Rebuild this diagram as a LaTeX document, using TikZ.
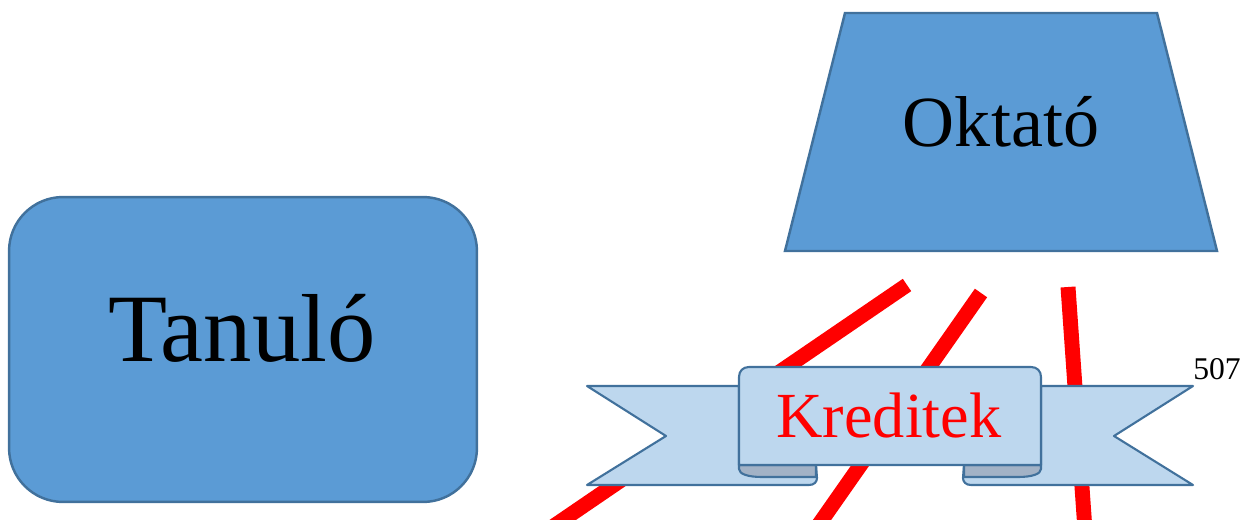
\documentclass[tikz,border=0pt]{standalone}
\usepackage{fontspec}
\newfontfamily\timesfont{Liberation Serif}
\definecolor{fillblue}{HTML}{5B9BD5}
\definecolor{edgeblue}{HTML}{41719C}
\definecolor{ribbonlight}{HTML}{BDD7EE}
\definecolor{ribbondark}{HTML}{A2B2C6}
\definecolor{linered}{HTML}{FF0000}
\tikzset{
  bluebox/.style={fill=fillblue, draw=edgeblue, line width=1.4pt},
  ribbonpart/.style={fill=ribbonlight, draw=edgeblue, line width=1.2pt, line join=round},
  ribbonfold/.style={fill=ribbondark, draw=edgeblue, line width=1.2pt, line join=round},
  redline/.style={draw=linered, line width=8.5pt},
  bigtext/.style={anchor=base, inner sep=0pt}
}
\begin{document}
\begin{tikzpicture}[x=0.02cm, y=-0.02cm]
\useasboundingbox (0,0) rectangle (1241,520);

% red lines (behind ribbon)
\coordinate (r1a) at (907,285); \coordinate (r1b) at (548,530);
\coordinate (r2a) at (981,293); \coordinate (r2b) at (815,530);
\coordinate (r3a) at (1068,287); \coordinate (r3b) at (1085,530);
\draw[redline] (r1a) -- (r1b);
\draw[redline] (r2a) -- (r2b);
\draw[redline] (r3a) -- (r3b);

% Tanulo rounded box
\node[bluebox, rounded corners=1.08cm, minimum width=9.36cm, minimum height=6.1cm, inner sep=0pt] (tanulobox) at (243,349.5) {};
\node[bigtext] (tanulo) at (242,361) {\timesfont\fontsize{55}{55}\selectfont Tanuló};

% Oktato trapezoid
\coordinate (tl) at (845,13); \coordinate (tr) at (1157,13);
\coordinate (br) at (1217,251); \coordinate (bl) at (785,251);
\filldraw[bluebox] (tl) -- (tr) -- (br) -- (bl) -- cycle;
\node[bigtext] (oktato) at (1001,147) {\timesfont\fontsize{41}{41}\selectfont Oktató};

% ribbon: left wing
\filldraw[ribbonpart] (739,386) -- (587,386) -- (666,436) -- (587,485) -- (809,485)
  .. controls (814,485) and (817,482) .. (817,478) -- (816,465) -- (739,465) -- cycle;
\filldraw[ribbonfold] (739,465) -- (739,469) .. controls (739,474) and (748,477) .. (762,477)
  -- (816,477) -- (816,465) -- cycle;
% right wing
\filldraw[ribbonpart] (1041,386) -- (1193,386) -- (1114,436) -- (1193,485) -- (971,485)
  .. controls (966,485) and (963,482) .. (963,478) -- (964,465) -- (1041,465) -- cycle;
\filldraw[ribbonfold] (1041,465) -- (1041,469) .. controls (1041,474) and (1032,477) .. (1018,477)
  -- (964,477) -- (964,465) -- cycle;
% central panel
\filldraw[ribbonpart] (739,465) -- (739,377) .. controls (739,371) and (743,367) .. (749,367)
  -- (1031,367) .. controls (1037,367) and (1041,371) .. (1041,377) -- (1041,465) -- cycle;
\node[bigtext] (kreditek) at (889,437) {\timesfont\fontsize{36.6}{36.6}\selectfont\color{linered}Kreditek};

% page number
\node[anchor=base west, inner sep=0pt] (pagenum) at (1193,379) {\timesfont\fontsize{18}{18}\selectfont 507};
\end{tikzpicture}
\end{document}
